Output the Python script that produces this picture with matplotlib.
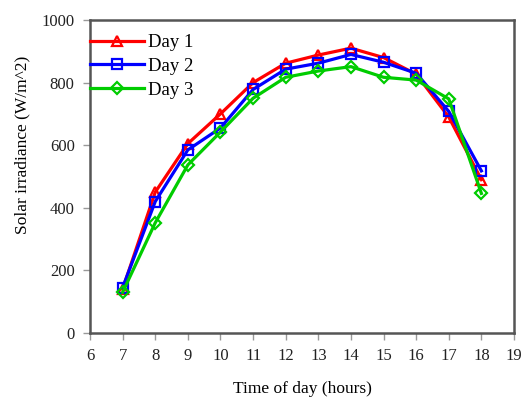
import numpy as np
import matplotlib.pyplot as plt

plt.rcParams['font.family'] = ['Liberation Serif', 'DejaVu Serif']

hours = [7, 8, 9, 10, 11, 12, 13, 14, 15, 16, 17, 18]
day1 = [140, 450, 605, 700, 800, 862, 888, 910, 880, 827, 690, 490]
day2 = [145, 420, 585, 655, 778, 843, 862, 890, 865, 830, 708, 518]
day3 = [130, 352, 537, 642, 750, 817, 837, 851, 817, 808, 748, 446]

fig = plt.figure(figsize=(5.29, 4.03), dpi=100)
ax = fig.add_axes([90/529, 70/403, 424/529, 313/403])

ax.plot(hours, day1, color='#ff0000', lw=2.3, marker='^', ms=7.5, mfc='none', mew=1.6, label='Day 1')
ax.plot(hours, day2, color='#0000ff', lw=2.3, marker='s', ms=7.5, mfc='none', mew=1.6, label='Day 2')
ax.plot(hours, day3, color='#00cc00', lw=2.3, marker='D', ms=6.5, mfc='none', mew=1.6, label='Day 3')

ax.set_xlim(6, 19)
ax.set_ylim(0, 1000)
ax.set_xticks(range(6, 20))
ax.set_yticks(range(0, 1001, 200))
ax.tick_params(direction='out', length=5, width=1, color='#999999', labelsize=12,
               labelcolor='#222222', pad=6)
for s in ax.spines.values():
    s.set_linewidth(1.8)
    s.set_color('#555555')

ax.set_xlabel('Time of day (hours)', fontsize=12.5, labelpad=12)
ax.set_ylabel('Solar irradiance (W/m^2)', fontsize=12.5)
ax.yaxis.set_label_coords(-0.14, 0.6)

ax.legend(loc='upper left', bbox_to_anchor=(0, 0.955), frameon=False, fontsize=13.5,
          handlelength=2.9, handletextpad=0.2, borderaxespad=0, borderpad=0, labelspacing=0.35)

fig.savefig('out.png', dpi=100)
